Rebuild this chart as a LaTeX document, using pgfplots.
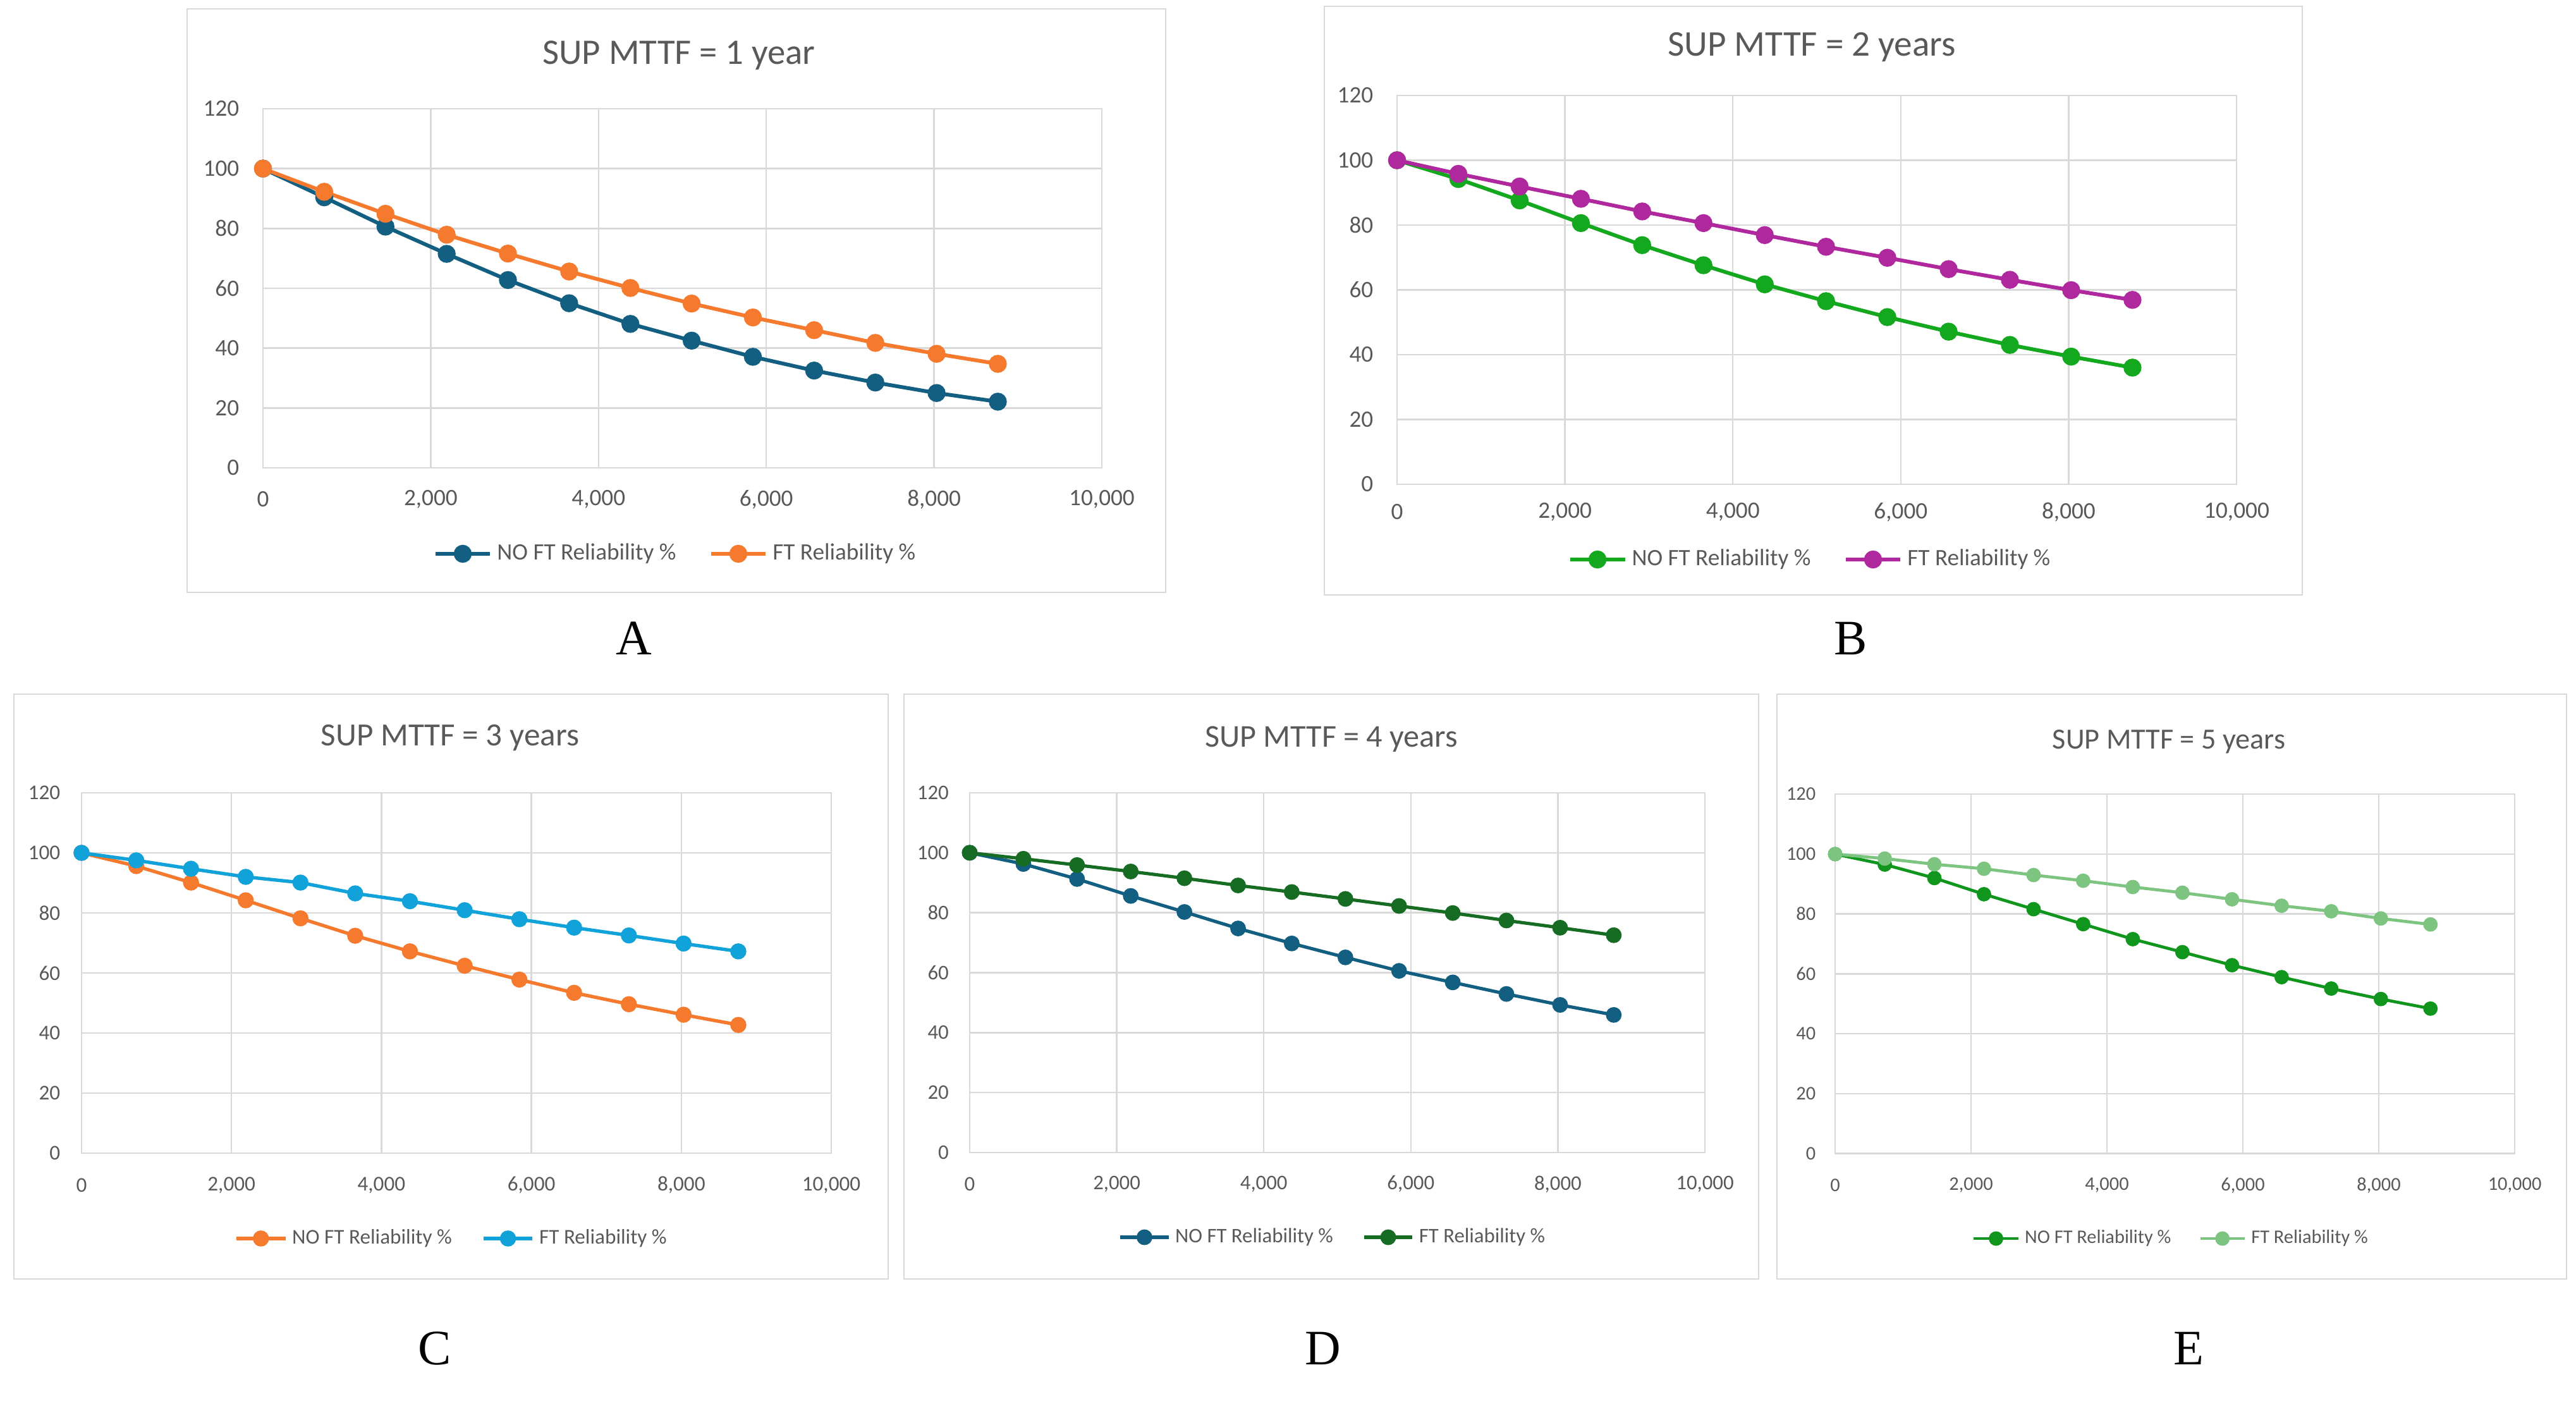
\documentclass[border=0pt]{standalone}
\usepackage{pgfplots}
\usepackage{pgfplotstable}
\pgfplotsset{compat=1.18}
\usepackage{fontspec}
\setmainfont{Carlito}
\newfontfamily\labfont{Liberation Serif}
\definecolor{txtc}{HTML}{595959}
\definecolor{gridc}{HTML}{D9D9D9}
\definecolor{boxc}{HTML}{D9D9D9}
\definecolor{tealc}{RGB}{19,95,130}
\definecolor{orangec}{RGB}{245,122,46}
\definecolor{greenb}{RGB}{20,168,30}
\definecolor{magc}{RGB}{176,40,158}
\definecolor{cyanc}{RGB}{16,162,216}
\definecolor{dgreen}{RGB}{22,108,34}
\definecolor{egreen}{RGB}{16,150,28}
\definecolor{lgreen}{RGB}{125,196,128}

\pgfplotstableread{
t no ft
0 100 100
730 90.4 92.25
1460 80.6 84.9
2190 71.5 77.9
2920 62.75 71.6
3650 55 65.6
4380 48.1 60.1
5110 42.5 54.9
5840 37.1 50.25
6570 32.5 46
7300 28.5 41.75
8030 25 38.1
8760 22.1 34.75
}\tabA
\pgfplotstableread{
t no ft
0 100 100
730 94.2 95.8
1460 87.6 91.9
2190 80.6 88.1
2920 73.8 84.2
3650 67.6 80.6
4380 61.7 76.9
5110 56.5 73.3
5840 51.6 69.9
6570 47.1 66.4
7300 43 63.1
8030 39.4 59.9
8760 36 56.9
}\tabB
\pgfplotstableread{
t no ft
0 100 100
730 95.6 97.5
1460 90.1 94.7
2190 84.2 92
2920 78.2 90.1
3650 72.4 86.5
4380 67.2 83.9
5110 62.4 80.9
5840 57.8 77.9
6570 53.4 75.1
7300 49.6 72.5
8030 46.1 69.8
8760 42.7 67.2
}\tabC
\pgfplotstableread{
t no ft
0 100 100
730 96.25 98
1460 91.25 95.9
2190 85.6 93.75
2920 80.25 91.5
3650 74.75 89.1
4380 69.75 86.9
5110 65.1 84.6
5840 60.6 82.25
6570 56.75 79.9
7300 52.9 77.4
8030 49.25 75
8760 45.9 72.5
}\tabD
\pgfplotstableread{
t no ft
0 100 100
730 96.5 98.5
1460 92 96.6
2190 86.6 95.1
2920 81.6 93
3650 76.6 91.1
4380 71.6 89
5110 67.25 87.1
5840 62.9 84.9
6570 58.9 82.75
7300 55.1 80.9
8030 51.6 78.5
8760 48.4 76.5
}\tabE

\newlength{\legw}
\pgfplotsset{
  common/.style={
    scale only axis, anchor=south west,
    xmin=0, xmax=10000, ymin=0, ymax=120,
    xtick={0,2000,4000,6000,8000,10000},
    ytick={0,20,40,60,80,100,120},
    scaled x ticks=false, scaled y ticks=false,
    grid=major, major grid style={draw=gridc, line width=0.6pt},
    axis line style={draw=gridc, line width=0.6pt},
    major tick length=0pt,
    tick label style={text=txtc, inner sep=0pt},
    xticklabel style={anchor=center},
    yticklabel style={anchor=east},
    /pgf/number format/.cd, 1000 sep={,}, assume math mode=true, /pgfplots/.cd,
    clip=false,
    legend columns=2,
    legend cell align=left,
    legend style={draw=none, fill=none, text=txtc, anchor=center},
    legend image code/.code={\draw[mark repeat=2,mark phase=2,##1] plot coordinates {(0pt,0pt) (\legw,0pt) (2\legw,0pt)};},
  },
}

\begin{document}
\begin{tikzpicture}
\path[use as bounding box] (0pt,0pt) rectangle (1018.75pt,553.75pt);
% panel boxes
\draw[boxc, line width=0.65pt] (74pt,319.5pt) rectangle (461pt,550.25pt);
\draw[boxc, line width=0.65pt] (523.75pt,318.5pt) rectangle (910.5pt,551.25pt);
\draw[boxc, line width=0.65pt] (5.5pt,48pt) rectangle (351.25pt,279.25pt);
\draw[boxc, line width=0.65pt] (357.5pt,48pt) rectangle (695.5pt,279.25pt);
\draw[boxc, line width=0.65pt] (702.75pt,48pt) rectangle (1015pt,279.25pt);

% ---------- A
\setlength{\legw}{10.85pt}
\begin{axis}[common, at={(104pt,368.75pt)}, width=331.75pt, height=142pt,
  tick label style={font=\fontsize{9.3}{11}\selectfont},
  xticklabel style={yshift=-12.5pt},
  yticklabel style={xshift=-9.25pt},
  legend style={at={(0.4936,-0.2394)}, font=\fontsize{9.3}{11}\selectfont,
    /tikz/every even column/.append style={column sep=11pt}},
  every axis plot/.append style={line width=1.5pt, mark=*, mark size=2.8pt}]
\addplot[tealc, mark options={fill=tealc}] table[x=t,y=no]{\tabA};
\addlegendentry{NO FT Reliability \%}
\addplot[orangec, mark options={fill=orangec}] table[x=t,y=ft]{\tabA};
\addlegendentry{FT Reliability \%}
\end{axis}

% ---------- B
\begin{axis}[common, at={(552.5pt,362.25pt)}, width=332pt, height=153.75pt,
  tick label style={font=\fontsize{9.3}{11}\selectfont},
  xticklabel style={yshift=-11pt},
  yticklabel style={xshift=-9.25pt},
  legend style={at={(0.494,-0.1935)}, font=\fontsize{9.3}{11}\selectfont,
    /tikz/every even column/.append style={column sep=11pt}},
  every axis plot/.append style={line width=1.5pt, mark=*, mark size=2.8pt}]
\addplot[greenb, mark options={fill=greenb}] table[x=t,y=no]{\tabB};
\addlegendentry{NO FT Reliability \%}
\addplot[magc, mark options={fill=magc}] table[x=t,y=ft]{\tabB};
\addlegendentry{FT Reliability \%}
\end{axis}

% ---------- C
\setlength{\legw}{9.7pt}
\begin{axis}[common, at={(32.25pt,97.75pt)}, width=296.5pt, height=142.5pt,
  tick label style={font=\fontsize{8.3}{10}\selectfont},
  xticklabel style={yshift=-12.6pt},
  yticklabel style={xshift=-8.25pt},
  legend style={at={(0.4958,-0.2368)}, font=\fontsize{8.3}{10}\selectfont,
    /tikz/every even column/.append style={column sep=9.8pt}},
  every axis plot/.append style={line width=1.35pt, mark=*, mark size=2.5pt}]
\addplot[orangec, mark options={fill=orangec}] table[x=t,y=no]{\tabC};
\addlegendentry{NO FT Reliability \%}
\addplot[cyanc, mark options={fill=cyanc}] table[x=t,y=ft]{\tabC};
\addlegendentry{FT Reliability \%}
\end{axis}

% ---------- D
\setlength{\legw}{9.55pt}
\begin{axis}[common, at={(383.5pt,98pt)}, width=290.75pt, height=142.25pt,
  tick label style={font=\fontsize{8.2}{10}\selectfont},
  xticklabel style={yshift=-12.5pt},
  yticklabel style={xshift=-8.1pt},
  legend style={at={(0.496,-0.2355)}, font=\fontsize{8.2}{10}\selectfont,
    /tikz/every even column/.append style={column sep=9.6pt}},
  every axis plot/.append style={line width=1.3pt, mark=*, mark size=2.45pt}]
\addplot[tealc, mark options={fill=tealc}] table[x=t,y=no]{\tabD};
\addlegendentry{NO FT Reliability \%}
\addplot[dgreen, mark options={fill=dgreen}] table[x=t,y=ft]{\tabD};
\addlegendentry{FT Reliability \%}
\end{axis}

% ---------- E
\setlength{\legw}{8.8pt}
\begin{axis}[common, at={(725.75pt,97.6pt)}, width=268.75pt, height=142.1pt,
  tick label style={font=\fontsize{7.6}{9}\selectfont},
  xticklabel style={yshift=-12.6pt},
  yticklabel style={xshift=-7.5pt},
  legend style={at={(0.4967,-0.2366)}, font=\fontsize{7.6}{9}\selectfont,
    /tikz/every even column/.append style={column sep=8.9pt}},
  every axis plot/.append style={line width=1.2pt, mark=*, mark size=2.25pt}]
\addplot[egreen, mark options={fill=egreen}] table[x=t,y=no]{\tabE};
\addlegendentry{NO FT Reliability \%}
\addplot[lgreen, mark options={fill=lgreen}] table[x=t,y=ft]{\tabE};
\addlegendentry{FT Reliability \%}
\end{axis}

% titles
\node[anchor=base, text=txtc, font=\fontsize{14.2}{17}\selectfont] at (268.5pt,528.35pt) {SUP MTTF = 1 year};
\node[anchor=base, text=txtc, font=\fontsize{14.3}{17}\selectfont] at (716.5pt,531.6pt) {SUP MTTF = 2 years};
\node[anchor=base, text=txtc, font=\fontsize{12.8}{15}\selectfont] at (178pt,258.75pt) {SUP MTTF = 3 years};
\node[anchor=base, text=txtc, font=\fontsize{12.55}{15}\selectfont] at (526.5pt,258.3pt) {SUP MTTF = 4 years};
\node[anchor=base, text=txtc, font=\fontsize{11.56}{14}\selectfont] at (857.75pt,257.6pt) {SUP MTTF = 5 years};

% panel letters
\node[font=\labfont\fontsize{19.6}{22}\selectfont, inner sep=0pt] at (250.75pt,301.25pt) {A};
\node[font=\labfont\fontsize{19.6}{22}\selectfont, inner sep=0pt] at (732pt,301.25pt) {B};
\node[font=\labfont\fontsize{19.6}{22}\selectfont, inner sep=0pt] at (172pt,20.5pt) {C};
\node[font=\labfont\fontsize{19.6}{22}\selectfont, inner sep=0pt] at (523.25pt,20.5pt) {D};
\node[font=\labfont\fontsize{19.6}{22}\selectfont, inner sep=0pt] at (865.5pt,20.5pt) {E};
\end{tikzpicture}
\end{document}
